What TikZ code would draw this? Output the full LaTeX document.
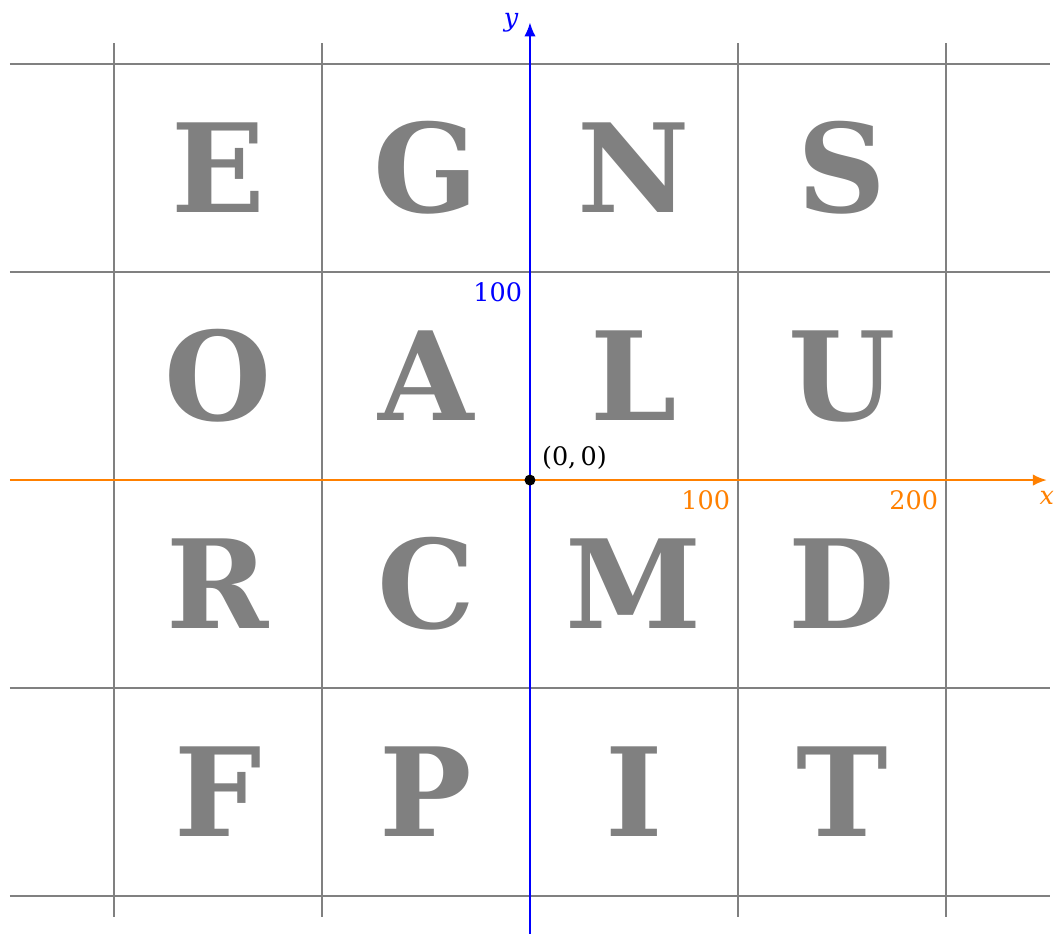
\documentclass[tikz,border=0pt]{standalone}
\usepackage{fontspec}
\setmainfont{DejaVu Serif}
\usepackage{xcolor}
\usepackage{tikz}
\usetikzlibrary{arrows.meta,positioning}
\definecolor{gridgray}{RGB}{128,128,128}
\definecolor{axisorange}{RGB}{255,128,0}
\definecolor{axisblue}{RGB}{0,0,255}
\tikzset{
  gridline/.style={draw=gridgray, line width=1.1pt},
  letterbox/.style={text=gridgray, font=\fontsize{70}{70}\selectfont\bfseries,
    inner sep=0pt, anchor=center},
  xaxis/.style={draw=axisorange, line width=1.1pt, -{Latex[length=2.8mm, width=2.3mm]}},
  yaxis/.style={draw=axisblue, line width=1.1pt, -{Latex[length=2.8mm, width=2.3mm]}},
  xtick/.style={text=axisorange, font=\fontsize{14.5}{14.5}\selectfont, below left=2.5pt and 1pt},
  ytick/.style={text=axisblue, font=\fontsize{14.5}{14.5}\selectfont, below left=2.5pt and 1pt},
  origin/.style={circle, fill=black, inner sep=0pt, minimum size=2.2mm}
}

\begin{document}
\begin{tikzpicture}[x=0.0416cm, y=0.0416cm]
\useasboundingbox (-254.8,-217.8) rectangle (252.9,230.8);

% grid
\draw[gridline] (-250,200) -- (250,200);
\draw[gridline] (-250,100) -- (250,100);
\draw[gridline] (-250,-100) -- (250,-100);
\draw[gridline] (-250,-200) -- (250,-200);
\draw[gridline] (-200,-210) -- (-200,210);
\draw[gridline] (-100,-210) -- (-100,210);
\draw[gridline] (100,-210) -- (100,210);
\draw[gridline] (200,-210) -- (200,210);

% letters
\node[letterbox] (e) at (-150,150) {E};
\node[letterbox] (g) at (-50,150) {G};
\node[letterbox] (n) at (50,150) {N};
\node[letterbox] (s) at (150,150) {S};
\node[letterbox] (o) at (-150,50) {O};
\node[letterbox] (a) at (-50,50) {A};
\node[letterbox] (l) at (50,50) {L};
\node[letterbox] (u) at (150,50) {U};
\node[letterbox] (r) at (-150,-50) {R};
\node[letterbox] (c) at (-50,-50) {C};
\node[letterbox] (m) at (50,-50) {M};
\node[letterbox] (d) at (150,-50) {D};
\node[letterbox] (f) at (-150,-150) {F};
\node[letterbox] (p) at (-50,-150) {P};
\node[letterbox] (i) at (50,-150) {I};
\node[letterbox] (t) at (150,-150) {T};

% axes
\coordinate (xstart) at (-250,0);
\coordinate (xtip) at (248.5,0);
\coordinate (ystart) at (0,-222);
\coordinate (ytip) at (0,220);
\draw[xaxis] (xstart) -- (xtip);
\draw[yaxis] (ystart) -- (ytip);
\node[text=axisorange, below=3pt of xtip, font=\fontsize{14.5}{14.5}\selectfont] (xlab) {\textit{x}};
\node[text=axisblue, left=3pt of ytip, font=\fontsize{14.5}{14.5}\selectfont] (ylab) {\textit{y}};

% ticks
\coordinate (x100) at (100,0);
\coordinate (x200) at (200,0);
\coordinate (y100) at (0,100);
\node[xtick] (x100lab) at (x100) {100};
\node[xtick] (x200lab) at (x200) {200};
\node[ytick] (y100lab) at (y100) {100};

% origin
\node[origin] (o0) at (0,0) {};
\node[above right=0pt and 1pt of o0, font=\fontsize{14.5}{14.5}\selectfont] (o0lab) {(0,\,0)};
\end{tikzpicture}
\end{document}
